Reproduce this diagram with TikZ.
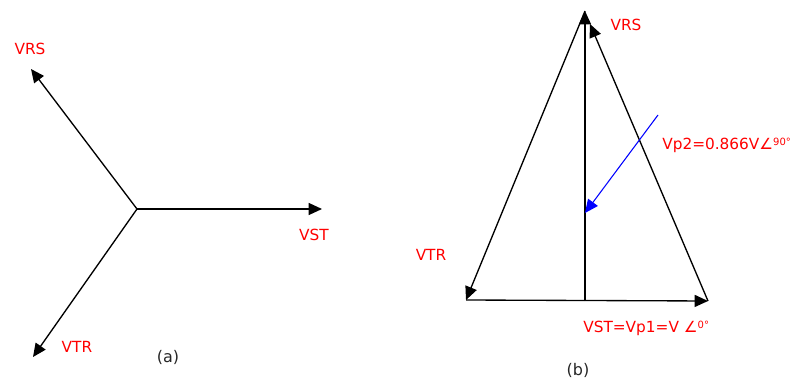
\documentclass[tikz,border=0pt]{standalone}
\usepackage{amsmath}
\usepackage{fontspec}
\setmainfont{DejaVu Sans}
\usetikzlibrary{arrows.meta}

\tikzset{
  vec/.style={line width=1pt, -{Triangle[length=10pt,width=9pt]}},
  lbl/.style={text=red, font=\fontsize{11.5}{13}\selectfont, inner sep=0pt},
  sublbl/.style={text=black!85, font=\fontsize{12}{14}\selectfont, inner sep=0pt}
}

\begin{document}
\begin{tikzpicture}[x=0.75pt,y=-0.75pt]
    \useasboundingbox (0,0) rectangle (802,381);
    % (a) star
    \coordinate (n) at (137,209);
    \coordinate (st) at (322,209);
    \coordinate (rs) at (31,69);
    \coordinate (tr) at (33,357);
    \draw[vec] (n) -- (st);
    \draw[vec] (n) -- (rs);
    \draw[vec] (n) -- (tr);
    \node[lbl] (lrs) at (30,49) {VRS};
    \node[lbl] (lst) at (314,235) {VST};
    \node[lbl] (ltr) at (77,347) {VTR};
    \node[sublbl] (la) at (168,357) {(a)};

    % (b) triangle
    \coordinate (top) at (585,11);
    \coordinate (top2) at (590,24);
    \coordinate (bl) at (466,300);
    \coordinate (br) at (708,301);
    \coordinate (mid) at (585,301);
    \coordinate (p2) at (585,213);
    \coordinate (p2s) at (658,115);
    \draw[vec] (bl) -- (br);
    \draw[vec] (mid) -- (top);
    \draw[vec] (top) -- (bl);
    \draw[vec] (br) -- (top2);
    \draw[vec, blue, line width=0.8pt] (p2s) -- (p2);
    \node[lbl] (lrs2) at (626,25) {VRS};
    \node[lbl] (ltr2) at (431,255) {VTR};
    \node[lbl, anchor=west] (lp2) at (662,145) {Vp2=0.866V∠\raisebox{0.5ex}{\fontsize{7.5}{8}\selectfont 90°}};
    \node[lbl, anchor=west] (lp1) at (583,328) {VST=Vp1=V ∠\raisebox{0.5ex}{\fontsize{7.5}{8}\selectfont 0°}};
    \node[sublbl] (lb) at (578,370) {(b)};
\end{tikzpicture}
\end{document}
